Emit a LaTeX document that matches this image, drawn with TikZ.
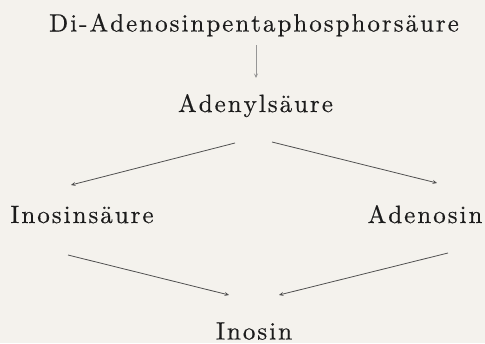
\documentclass[tikz,border=0pt]{standalone}
\usepackage{fontspec}
\newfontfamily\lmten{lmroman10-regular}[Extension=.otf,FakeBold=0.4]
\usetikzlibrary{arrows.meta}
\definecolor{paper}{HTML}{F4F2ED}
\definecolor{ink}{HTML}{1C1C1C}
\definecolor{lineg}{HTML}{505050}
\ExplSyntaxOn
\NewDocumentCommand\spacedtext{O{2pt}m}{\tl_map_inline:nn{#2}{##1\kern#1}\kern-#1}
\ExplSyntaxOff
\tikzset{
  lbl/.style={inner sep=0pt, anchor=base, text=ink,
    font=\lmten\fontsize{25}{29}\selectfont},
  arr/.style={draw=lineg, line width=0.8pt,
    -{Stealth[length=4.5pt,width=4pt,inset=1.8pt]}},
  faint/.style={draw=lineg!60}
}
\begin{document}
\begin{tikzpicture}[x=1pt,y=-1pt]
\fill[paper] (0,0) rectangle (485,343);
\useasboundingbox (0,0) rectangle (485,343);
\node[lbl] (dap) at (254,31.5) {\spacedtext{Di-Adenosinpentaphosphorsäure}};
\node[lbl] (adenyl) at (255.5,112) {\spacedtext{Adenylsäure}};
\node[lbl] (inosinsaeure) at (82,223) {\spacedtext{Inosinsäure}};
\node[lbl] (adenosin) at (425,223) {\spacedtext{Adenosin}};
\node[lbl] (inosin) at (254,339.5) {\spacedtext{Inosin}};
\draw[arr,faint] ([xshift=2pt,yshift=-13.5pt]dap.base) -- ([xshift=0.5pt,yshift=34pt]adenyl.base);
\draw[arr] ([xshift=-20.5pt,yshift=-31pt]adenyl.base) -- ([xshift=-11pt,yshift=38pt]inosinsaeure.base);
\draw[arr] ([xshift=16.5pt,yshift=-30pt]adenyl.base) -- ([xshift=12pt,yshift=40pt]adenosin.base);
\draw[arr] ([xshift=-14pt,yshift=-32pt]inosinsaeure.base) -- ([xshift=-25pt,yshift=44.5pt]inosin.base);
\draw[arr] ([xshift=23pt,yshift=-30pt]adenosin.base) -- ([xshift=25pt,yshift=44.5pt]inosin.base);
\end{tikzpicture}
\end{document}
